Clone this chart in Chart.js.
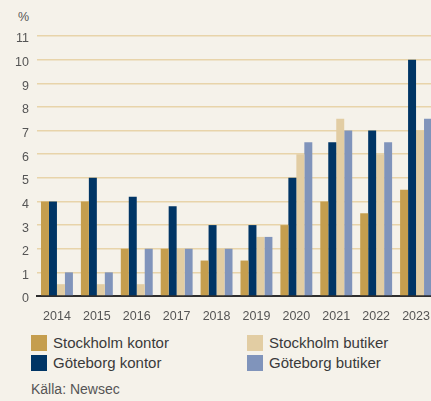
<!DOCTYPE html>
<html>
<head>
<meta charset="utf-8">
<script src="https://cdn.jsdelivr.net/npm/chart.js@4"></script>
<style>
  html, body { margin: 0; padding: 0; background: #F5F2EA; overflow: hidden; width: 431px; height: 401px; }
  body { position: relative; font-family: "Liberation Sans", Arial, sans-serif; }
  #wrap { position: absolute; left: 0; top: 0; width: 436px; height: 325px; }
  .unit { position: absolute; left: 18px; top: 10px; font-size: 12.5px; color: #555; }
  .leg { position: absolute; font-size: 15px; color: #3a3a3a; line-height: 16px; white-space: nowrap; }
  .leg span { display: inline-block; width: 16px; height: 16px; vertical-align: top; margin-right: 6px; }
  .source { position: absolute; left: 31px; top: 381px; font-size: 14px; color: #555; }
</style>
</head>
<body>
<div class="unit">%</div>
<div id="wrap"><canvas id="chart" width="436" height="325"></canvas></div>
<div id="legend"></div>
<div class="source">Källa: Newsec</div>
<script>
const years = ["2014", "2015", "2016", "2017", "2018", "2019", "2020", "2021", "2022", "2023"];
const sthlmKontor = [4, 4, 2, 2, 1.5, 1.5, 3, 4, 3.5, 4.5];
const gbgKontor = [4, 5, 4.2, 3.8, 3, 3, 5, 6.5, 7, 10];
const sthlmButiker = [0.5, 0.5, 0.5, 2, 2, 2.5, 6, 7.5, 6, 7];
const gbgButiker = [1, 1, 2, 2, 2, 2.5, 6.5, 7, 6.5, 7.5];

const series = [
  { label: "Stockholm kontor", data: sthlmKontor, color: "#C59E4E" },
  { label: "Göteborg kontor", data: gbgKontor, color: "#003565" },
  { label: "Stockholm butiker", data: sthlmButiker, color: "#E2CDA3" },
  { label: "Göteborg butiker", data: gbgButiker, color: "#8094BB" },
];

// legend in two columns, same as the print layout
const legPos = [
  { left: 31, top: 335 },
  { left: 31, top: 355 },
  { left: 247, top: 335 },
  { left: 247, top: 355 },
];
let legend = document.getElementById("legend");
series.forEach((s, i) => {
  let div = document.createElement("div");
  div.className = "leg";
  div.style.left = legPos[i].left + "px";
  div.style.top = legPos[i].top + "px";
  div.innerHTML = '<span style="background:' + s.color + '"></span>' + s.label;
  legend.appendChild(div);
});

const tickFont = { family: "Liberation Sans", size: 12.5 };

new Chart(document.getElementById("chart"), {
  type: "bar",
  data: {
    labels: years,
    datasets: series.map((s) => ({
      label: s.label,
      data: s.data,
      backgroundColor: s.color,
      borderWidth: 0,
      barPercentage: 1,
      categoryPercentage: 0.8,
    })),
  },
  options: {
    responsive: false,
    animation: false,
    devicePixelRatio: 1,
    layout: { padding: { top: 36, right: 0, bottom: 0, left: 0 } },
    plugins: { legend: { display: false }, tooltip: { enabled: false } },
    scales: {
      x: {
        grid: { display: false },
        border: { display: true, color: "#2e2e2e", width: 2 },
        ticks: { color: "#555", font: tickFont, padding: 5, maxRotation: 0 },
        afterFit: (scale) => { scale.height = 29; },
      },
      y: {
        min: 0,
        max: 11,
        border: { display: false },
        grid: {
          color: (ctx) => (ctx.tick && ctx.tick.value === 0 ? "rgba(0,0,0,0)" : "#E8D4AA"),
          lineWidth: 1.5,
          drawTicks: false,
        },
        ticks: { stepSize: 1, color: "#555", font: tickFont, padding: 8, labelOffset: 3 },
        afterFit: (scale) => { scale.width = 37; },
      },
    },
  },
});
</script>
</body>
</html>
